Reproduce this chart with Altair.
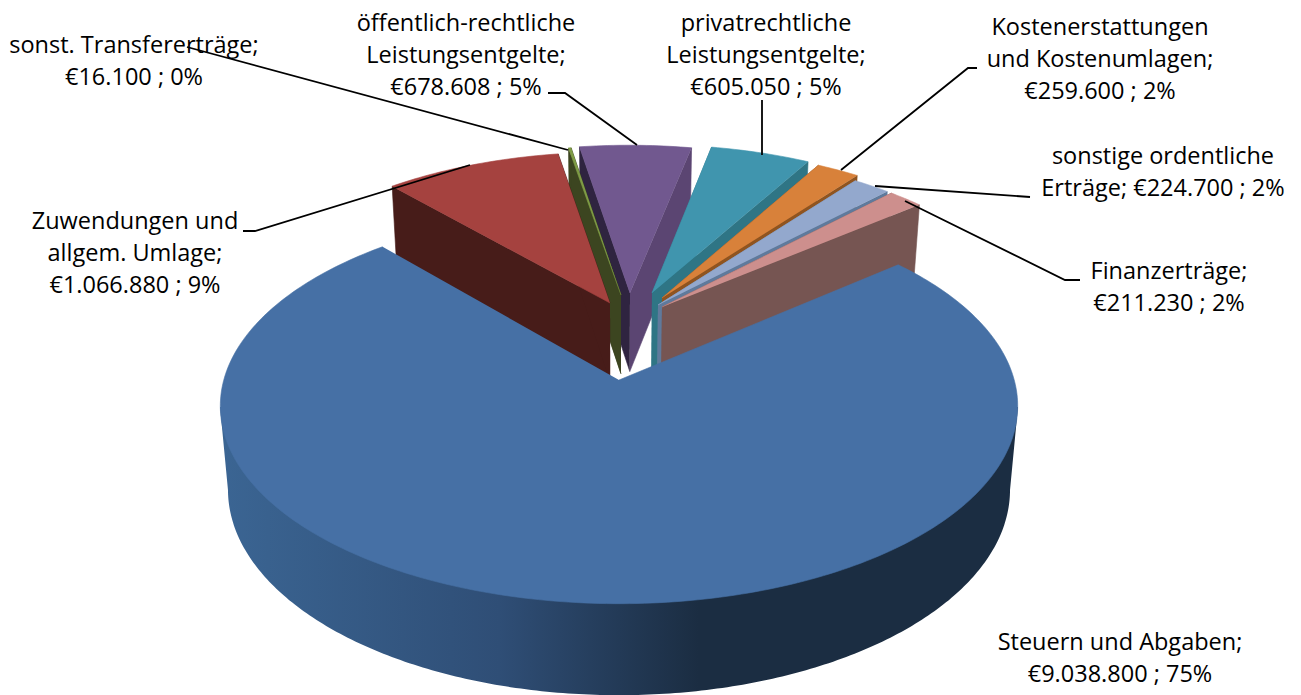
import numpy as np
import pandas as pd
import altair as alt

# ---- chart values
categories = ["Steuern und Abgaben", "Zuwendungen und allgem. Umlage", "sonst. Transfererträge",
              "öffentlich-rechtliche Leistungsentgelte", "privatrechtliche Leistungsentgelte",
              "Kostenerstattungen und Kostenumlagen", "sonstige ordentliche Erträge", "Finanzerträge"]
values = [9038800, 1066880, 16100, 678608, 605050, 259600, 224700, 211230]
first_angle = 50.0

# ---- label text, one entry per line
label_lines = [
    ["Steuern und Abgaben;", "€9.038.800 ; 75%"],
    ["Zuwendungen und", "allgem. Umlage;", "€1.066.880 ; 9%"],
    ["sonst. Transfererträge;", "€16.100 ; 0%"],
    ["öffentlich-rechtliche", "Leistungsentgelte;", "€678.608 ; 5%"],
    ["privatrechtliche", "Leistungsentgelte;", "€605.050 ; 5%"],
    ["Kostenerstattungen", "und Kostenumlagen;", "€259.600 ; 2%"],
    ["sonstige ordentliche", "Erträge; €224.700 ; 2%"],
    ["Finanzerträge;", "€211.230 ; 2%"],
]

# ---- layout and styling (reference pixels)
label_anchor = [(1120, 643), (135, 222), (134, 46), (466, 24), (766, 24), (1100, 28), (1163, 157), (1169, 272)]
line_step = 32.2
leaders = [
    [(243, 231), (255, 231), (470, 165)],
    [(187, 47), (568, 150)],
    [(548, 93), (565, 93), (637, 145)],
    [(762, 100), (762, 155)],
    [(977, 68), (968, 68), (841, 170)],
    [(1030, 197), (875, 186)],
    [(1080, 280), (1065, 280), (905, 201)],
]
apex = [(619, 380), (610, 303), (621, 295), (630, 293), (652, 293), (662, 298), (658, 305), (662, 307)]
rim = [1.0, 0.968, 0.965, 0.96, 0.965, 0.97, 0.975, 0.976]
top_color = ["#4670a5", "#a5423f", "#7f9c46", "#71588f", "#4095ae", "#d8813a", "#93a8cd", "#cd8f8d"]
start_face = ["#1b2d42", "#471c19", "#3c4520", "#2f2440", "#2f7585", "#8f5420", "#6f85a5", "#765552"]
end_face = ["#1b2d42", "#471c19", "#3c4520", "#5b4572", "#2f7585", "#8f5420", "#5f7a9c", "#765552"]
wall_stops = [(0.0, "#3b6593"), (0.35, "#2f4e76"), (0.6, "#1b2d42"), (1.0, "#1b2d42")]

TOP = dict(x0=619.0, y0=381.0, a=395.5, b=194.6, k=0.1313)
BOT = dict(x0=619.0, y0=463.0, a=387.7, b=202.0, k=0.13)


def project(u, v, p):
    w = 1 - p["k"] * np.asarray(v)
    return p["x0"] + p["a"] * np.asarray(u) / w, p["y0"] + p["b"] * np.asarray(v) / w


def unproject(x, y, p):
    s = (y - p["y0"]) / p["b"]
    w = 1 / (1 + p["k"] * s)
    return (x - p["x0"]) / p["a"] * w, s * w


x_scale = alt.Scale(domain=[8, 1293], nice=False, zero=False)
y_scale = alt.Scale(domain=[695, 8], nice=False, zero=False)


def polygon(xs, ys, fill):
    df = pd.DataFrame({"x": np.round(xs, 2), "y": np.round(ys, 2), "i": np.arange(len(xs))})
    if isinstance(fill, str):
        mark = alt.Chart(df).mark_line(fill=fill, stroke=fill, strokeWidth=0.6)
    else:
        mark = alt.Chart(df).mark_line(fill=fill, strokeWidth=0, strokeOpacity=0)
    return mark.encode(
        x=alt.X("x:Q", scale=x_scale, axis=None),
        y=alt.Y("y:Q", scale=y_scale, axis=None),
        order="i:Q",
    )


total = sum(values)
angles = [first_angle]
for val in values:
    angles.append(angles[-1] + val / total * 360)

layers = []
paint_order = [3, 2, 1, 4, 5, 6, 7, 0]
for idx in paint_order:
    a0, a1 = np.radians(angles[idx]), np.radians(angles[idx + 1])
    cu, cv = unproject(apex[idx][0], apex[idx][1], TOP)
    r = rim[idx]
    t = np.linspace(a0, a1, max(12, int((a1 - a0) * 60)))
    au, av = cu + r * np.sin(t), cv - r * np.cos(t)
    tx, ty = project(au, av, TOP)
    if idx == 0:
        # outer wall of the large slice, between its two silhouette points;
        # its upper edge runs a little inside the top face so no seam shows
        lo, hi = np.arccos(-TOP["k"]), 2 * np.pi - np.arccos(-TOP["k"])
        w = np.linspace(lo, hi, 240)
        wu, wv = r * np.sin(w), -r * np.cos(w)
        inner = np.where((w == lo) | (w == hi), 1.0, 0.97)
        ax, ay = project(wu * inner, wv * inner, TOP)
        bx, by = project(wu, wv, BOT)
        gradient = alt.Gradient(
            gradient="linear", x1=0, x2=1, y1=0, y2=0,
            stops=[alt.GradientStop(offset=o, color=c) for o, c in wall_stops],
        )
        layers.append(polygon(np.r_[ax, bx[::-1]], np.r_[ay, by[::-1]], gradient))
    else:
        for ang, col, end in ((0, start_face[idx], 0), (-1, end_face[idx], 1)):
            eu, ev = au[ang], av[ang]
            ex0, ey0 = project(cu, cv, TOP)
            ex1, ey1 = project(eu, ev, TOP)
            ex2, ey2 = project(eu, ev, BOT)
            ex3, ey3 = project(cu, cv, BOT)
            layers.append(polygon([ex0, ex1, ex2, ex3], [ey0, ey1, ey2, ey3], col))
    layers.append(polygon(np.r_[apex[idx][0], tx], np.r_[apex[idx][1], ty], top_color[idx]))

# leader lines
lead_rows = []
for n, pts in enumerate(leaders):
    for i, (lx, ly) in enumerate(pts):
        lead_rows.append({"n": n, "i": i, "x": lx, "y": ly})
layers.append(alt.Chart(pd.DataFrame(lead_rows)).mark_line(color="#000000", strokeWidth=1.8).encode(
    x=alt.X("x:Q", scale=x_scale, axis=None),
    y=alt.Y("y:Q", scale=y_scale, axis=None),
    detail="n:N",
    order="i:Q",
))

# labels
text_rows = []
for lines, (lx, ly) in zip(label_lines, label_anchor):
    for i, line in enumerate(lines):
        text_rows.append({"x": lx, "y": ly + i * line_step, "t": line})
layers.append(alt.Chart(pd.DataFrame(text_rows)).mark_text(
    font="Open Sans", fontSize=23.5, color="#000000", align="center", baseline="middle"
).encode(
    x=alt.X("x:Q", scale=x_scale, axis=None),
    y=alt.Y("y:Q", scale=y_scale, axis=None),
    text="t:N",
))

chart = alt.layer(*layers).properties(
    width=1285, height=687, padding=0, autosize=alt.AutoSizeParams(type="none")
).configure_view(stroke=None)

chart.save("out.html", embed_options={"renderer": "svg", "actions": False})
